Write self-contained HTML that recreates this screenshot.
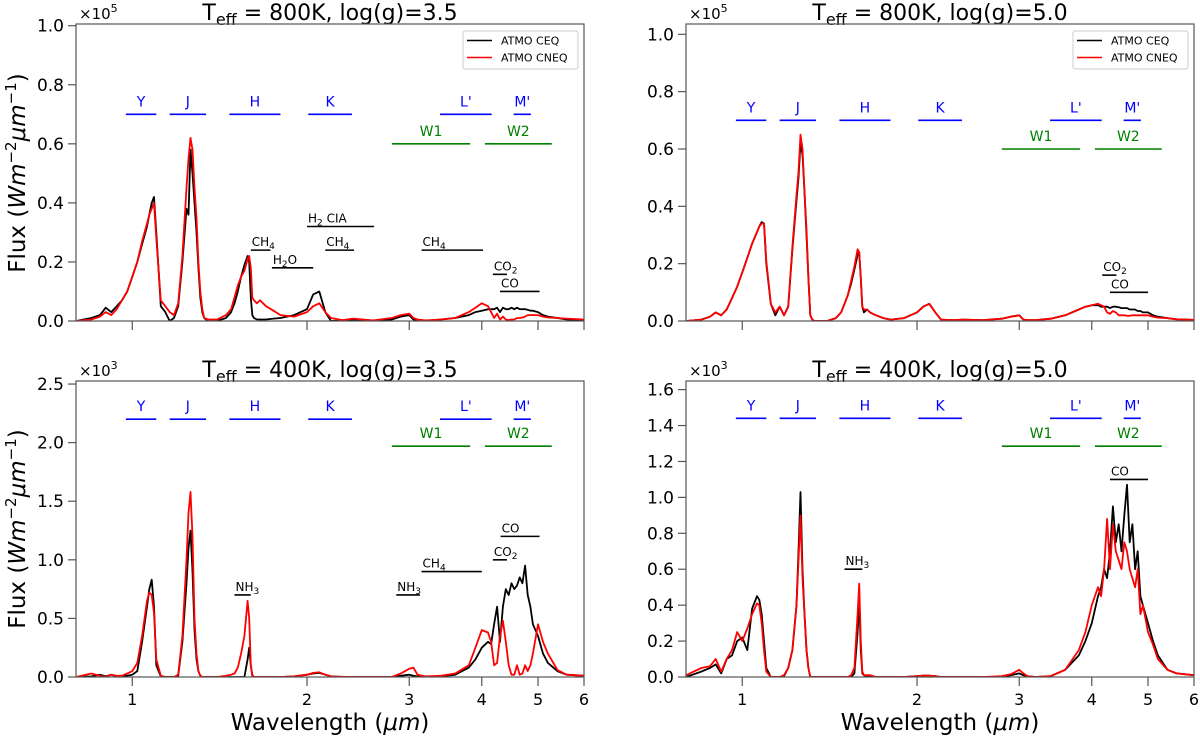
<!DOCTYPE html>
<html><head><meta charset="utf-8"><title>ATMO spectra</title>
<style>
html,body{margin:0;padding:0;background:#fff;}
svg{display:block;font-family:"DejaVu Sans","Liberation Sans",sans-serif;}
</style></head>
<body>
<svg id="fig" width="1200" height="737" viewBox="0 0 1200 737" xmlns="http://www.w3.org/2000/svg">
<rect width="1200" height="737" fill="#fff"/>
<text x="330" y="730" font-size="23" text-anchor="middle">Wavelength (<tspan font-style="italic">μm</tspan>)</text>
<text x="940" y="730" font-size="23" text-anchor="middle">Wavelength (<tspan font-style="italic">μm</tspan>)</text>
<text transform="translate(25,173) rotate(-90)" font-size="23" text-anchor="middle">Flux (<tspan font-style="italic">Wm</tspan><tspan font-size="15" dy="-9">−2</tspan><tspan font-style="italic" dy="9">μm</tspan><tspan font-size="15" dy="-9">−1</tspan><tspan dy="9">)</tspan></text>
<text transform="translate(25,529) rotate(-90)" font-size="23" text-anchor="middle">Flux (<tspan font-style="italic">Wm</tspan><tspan font-size="15" dy="-9">−2</tspan><tspan font-style="italic" dy="9">μm</tspan><tspan font-size="15" dy="-9">−1</tspan><tspan dy="9">)</tspan></text>
</svg>
<script>
// shared wavelength grid (micron)
const wavelength = [0.80,0.85,0.88,0.90,0.92,0.94,0.96,0.98,1.00,1.02,1.04,1.06,1.07,1.08,1.09,1.10,1.12,1.14,1.16,1.18,1.20,1.22,1.24,1.25,1.26,1.27,1.28,1.29,1.30,1.31,1.32,1.33,1.35,1.40,1.45,1.48,1.50,1.52,1.54,1.56,1.58,1.59,1.60,1.61,1.62,1.64,1.66,1.70,1.75,1.80,1.90,2.00,2.05,2.10,2.15,2.20,2.30,2.40,2.60,2.80,2.90,3.00,3.05,3.10,3.20,3.40,3.60,3.80,3.90,4.00,4.10,4.15,4.20,4.25,4.30,4.35,4.40,4.45,4.50,4.55,4.60,4.65,4.70,4.75,4.80,4.85,4.90,5.00,5.10,5.20,5.40,5.60,6.00];
// 800K logg 3.5 (x1e5)
const tlCEQ = [0.0,0.01,0.02,0.045,0.03,0.05,0.07,0.10,0.15,0.20, 0.26,0.32,0.36,0.40,0.42,0.30,0.05,0.03,0.0,0.01, 0.05,0.20,0.38,0.36,0.58,0.50,0.40,0.30,0.18,0.08, 0.03,0.01,0.0,0.0,0.01,0.03,0.06,0.10,0.15,0.19, 0.22,0.20,0.08,0.02,0.01,0.005,0.005,0.005,0.008,0.01, 0.02,0.04,0.09,0.10,0.03,0.0,0.002,0.005,0.0,0.005, 0.015,0.02,0.005,0.0,0.0,0.005,0.01,0.02,0.03,0.035, 0.04,0.04,0.04,0.045,0.03,0.045,0.04,0.04,0.045,0.04, 0.045,0.04,0.04,0.04,0.038,0.035,0.035,0.03,0.02,0.015, 0.01,0.005,0.003];
const tlCNEQ = [0.0,0.005,0.015,0.03,0.02,0.04,0.07,0.10,0.15,0.20, 0.27,0.33,0.36,0.38,0.40,0.28,0.07,0.05,0.03,0.02, 0.06,0.22,0.45,0.55,0.62,0.58,0.45,0.35,0.20,0.10, 0.04,0.01,0.005,0.005,0.02,0.04,0.08,0.12,0.15,0.17, 0.21,0.22,0.18,0.08,0.07,0.06,0.07,0.05,0.035,0.02, 0.015,0.03,0.05,0.06,0.03,0.01,0.003,0.008,0.002,0.01, 0.02,0.025,0.01,0.005,0.002,0.005,0.01,0.03,0.045,0.06, 0.05,0.03,0.01,0.025,0.005,0.015,0.005,0.003,0.005,0.005, 0.01,0.01,0.012,0.015,0.02,0.02,0.02,0.02,0.015,0.012, 0.01,0.008,0.005];
// 800K logg 5.0 (x1e5)
const trCEQ = [0.0,0.005,0.015,0.03,0.02,0.04,0.08,0.12,0.17,0.22, 0.27,0.31,0.33,0.345,0.34,0.20,0.06,0.02,0.05,0.02, 0.05,0.25,0.42,0.50,0.62,0.58,0.45,0.30,0.15,0.02, 0.005,0.0,0.0,0.0,0.01,0.03,0.06,0.09,0.13,0.18, 0.23,0.24,0.15,0.05,0.03,0.04,0.03,0.02,0.01,0.005, 0.01,0.03,0.05,0.06,0.03,0.005,0.003,0.005,0.003,0.008, 0.015,0.02,0.005,0.003,0.003,0.008,0.02,0.04,0.05,0.055, 0.055,0.05,0.05,0.05,0.045,0.05,0.05,0.048,0.045,0.045, 0.045,0.04,0.04,0.04,0.035,0.035,0.03,0.03,0.02,0.015, 0.01,0.006,0.004];
const trCNEQ = [0.0,0.005,0.015,0.03,0.02,0.04,0.08,0.12,0.17,0.22, 0.27,0.31,0.33,0.34,0.34,0.21,0.06,0.03,0.05,0.02, 0.05,0.26,0.44,0.52,0.65,0.60,0.45,0.32,0.15,0.02, 0.005,0.0,0.0,0.0,0.01,0.03,0.06,0.09,0.14,0.19, 0.25,0.24,0.15,0.05,0.04,0.04,0.03,0.02,0.01,0.005, 0.01,0.03,0.05,0.06,0.03,0.005,0.003,0.005,0.003,0.008, 0.015,0.02,0.005,0.003,0.003,0.008,0.02,0.04,0.05,0.055, 0.06,0.055,0.05,0.03,0.025,0.035,0.03,0.02,0.02,0.02, 0.018,0.018,0.02,0.02,0.02,0.02,0.02,0.02,0.015,0.012, 0.01,0.006,0.004];
// 400K logg 3.5 (x1e3)
const blCEQ = [0.0,0.005,0.02,0.005,0.02,0.005,0.01,0.01,0.02,0.05, 0.3,0.6,0.75,0.83,0.6,0.1,0.005,0,0,0, 0.01,0.3,0.8,1.1,1.25,0.9,0.4,0.15,0.05,0.01, 0,0,0,0,0,0,0,0,0,0, 0.15,0.25,0.1,0.01,0,0,0,0,0,0, 0.005,0.02,0.03,0.035,0.02,0.005,0,0,0,0, 0.01,0.02,0.01,0.005,0,0.005,0.02,0.08,0.15,0.25, 0.3,0.28,0.45,0.6,0.3,0.6,0.75,0.7,0.8,0.75, 0.78,0.85,0.8,0.95,0.7,0.6,0.45,0.35,0.2,0.12, 0.05,0.02,0.01];
const blCNEQ = [0.0,0.03,0.01,0.0,0.02,0.01,0.01,0.03,0.05,0.12, 0.35,0.65,0.72,0.7,0.55,0.15,0.01,0,0,0, 0.02,0.35,1.0,1.4,1.58,1.2,0.5,0.2,0.05,0.01, 0,0,0,0,0.01,0.02,0.03,0.08,0.2,0.35, 0.65,0.5,0.1,0.02,0,0,0,0,0,0, 0.005,0.02,0.035,0.04,0.02,0.005,0.002,0,0,0, 0.03,0.07,0.08,0.02,0.005,0.01,0.03,0.1,0.25,0.4, 0.38,0.3,0.1,0.12,0.35,0.48,0.3,0.1,0.02,0.02, 0.1,0.02,0.03,0.1,0.05,0.1,0.2,0.45,0.3,0.2, 0.06,0.02,0.01];
// 400K logg 5.0 (x1e3)
const brCEQ = [0.0,0.03,0.05,0.07,0.02,0.1,0.12,0.2,0.22,0.15, 0.38,0.45,0.43,0.35,0.2,0.05,0,0,0,0.005, 0.05,0.15,0.4,0.7,1.03,0.6,0.35,0.15,0.05,0, 0,0,0,0,0,0,0,0,0,0.02, 0.25,0.43,0.15,0.02,0.01,0.005,0.005,0,0,0, 0,0.005,0.008,0.008,0.005,0,0,0,0,0, 0.01,0.02,0.01,0.005,0,0.005,0.04,0.12,0.2,0.3, 0.45,0.5,0.6,0.55,0.7,0.95,0.75,0.85,0.7,0.9, 1.07,0.75,0.85,0.6,0.7,0.45,0.4,0.3,0.2,0.12, 0.04,0.02,0.01];
const brCNEQ = [0.01,0.05,0.06,0.1,0.03,0.1,0.15,0.25,0.2,0.27, 0.35,0.41,0.4,0.3,0.15,0.03,0,0,0,0.01, 0.05,0.15,0.4,0.65,0.9,0.55,0.35,0.15,0.05,0, 0,0,0,0,0,0,0,0,0.01,0.05, 0.35,0.52,0.2,0.03,0.01,0.01,0.01,0,0,0, 0,0.005,0.008,0.008,0.005,0,0,0,0,0.005, 0.015,0.04,0.02,0.005,0,0.005,0.04,0.15,0.25,0.4, 0.5,0.45,0.6,0.88,0.6,0.85,0.7,0.65,0.6,0.75, 0.7,0.6,0.55,0.5,0.6,0.35,0.4,0.25,0.18,0.1, 0.04,0.02,0.01];
// photometric bands
const bandNames = ["Y","J","H","K","L'","M'"];
const bandStart = [0.975,1.16,1.47,2.01,3.39,4.54];
const bandEnd = [1.10,1.34,1.80,2.39,4.16,4.86];
const wiseNames = ["W1","W2"];
const wiseStart = [2.80,4.05];
const wiseEnd = [3.82,5.28];
const xTickValues = [1,2,3,4,5,6];
const xTickLabels = ["1","2","3","4","5","6"];
const topYTicks = [0,0.2,0.4,0.6,0.8,1.0];
const blYTicks = [0,0.5,1.0,1.5,2.0,2.5];
const brYTicks = [0,0.2,0.4,0.6,0.8,1.0,1.2,1.4,1.6];
// molecule annotations
const tlMolName = ["CH4","H2O","H2 CIA","CH4","CH4","CO2","CO"];
const tlMolStart = [1.60,1.74,2.00,2.15,3.15,4.18,4.30];
const tlMolEnd = [1.73,2.05,2.61,2.41,4.02,4.42,5.03];
const tlMolLevel = [0.24,0.18,0.32,0.24,0.24,0.158,0.10];
const trMolName = ["CO2","CO"];
const trMolStart = [4.17,4.30];
const trMolEnd = [4.41,5.00];
const trMolLevel = [0.16,0.10];
const blMolName = ["NH3","NH3","CH4","CO2","CO"];
const blMolStart = [1.50,2.85,3.15,4.18,4.31];
const blMolEnd = [1.60,3.13,4.00,4.42,5.03];
const blMolLevel = [0.70,0.70,0.90,1.00,1.20];
const brMolName = ["NH3","CO"];
const brMolStart = [1.50,4.30];
const brMolEnd = [1.61,5.00];
const brMolLevel = [0.60,1.10];

const NS = "http://www.w3.org/2000/svg";
const svg = document.getElementById('fig');
function mk(tag, attrs, parent){ const e=document.createElementNS(NS,tag); for(const k in attrs) e.setAttribute(k,attrs[k]); (parent||svg).appendChild(e); return e; }

function molText(g, name, x, y){
  const t = mk('text',{x:x,y:y,'font-size':12,fill:'#000'},g);
  
  
  if(name==="H2 CIA"){ t.innerHTML='H<tspan font-size="9" dy="3">2</tspan><tspan dy="-3"> CIA</tspan>'; return; }
  if(name==="CO2"){ t.innerHTML='CO<tspan font-size="9" dy="3">2</tspan>'; return; }
  if(name==="CH4"){ t.innerHTML='CH<tspan font-size="9" dy="3">4</tspan>'; return; }
  if(name==="NH3"){ t.innerHTML='NH<tspan font-size="9" dy="3">3</tspan>'; return; }
  if(name==="H2O"){ t.innerHTML='H<tspan font-size="9" dy="3">2</tspan><tspan dy="-3">O</tspan>'; return; }
  t.textContent = name;
}

function panel(cfg){
  const g = mk('g',{});
  
  
  const lx0=Math.log10(0.8), lx1=Math.log10(6);
  const X = v => cfg.x0 + (Math.log10(v)-lx0)/(lx1-lx0)*(cfg.x1-cfg.x0);
  const Y = v => cfg.yb - v/cfg.ymax*(cfg.yb-cfg.yt);
  const tt = mk('text',{x:(cfg.x0+cfg.x1)/2,y:cfg.yt-4,'font-size':22,'text-anchor':'middle'},g);
  
  
  tt.innerHTML = 'T<tspan font-size="16" dy="5">eff</tspan><tspan dy="-5"> = '+cfg.teff+'K, log(g)='+cfg.logg+'</tspan>';
  const sc = mk('text',{x:cfg.x0+3,y:cfg.yt-5,'font-size':15},g);
  
  
  sc.innerHTML = '×10<tspan font-size="11" dy="-7">'+cfg.exp+'</tspan>';
  for(let i=0;i<bandNames.length;i++){
    const yb = Y(cfg.bandLevel);
    const l = mk('line',{x1:X(bandStart[i]),x2:X(bandEnd[i]),y1:yb,y2:yb,stroke:'#0000ff','stroke-width':1.6},g);
    
    
    const t = mk('text',{x:(X(bandStart[i])+X(bandEnd[i]))/2,y:yb-8,'font-size':14,fill:'#0000ff','text-anchor':'middle'},g);
    
    
    t.textContent = bandNames[i];
  }
  for(let i=0;i<wiseNames.length;i++){
    const yb = Y(cfg.wiseLevel);
    const l = mk('line',{x1:X(wiseStart[i]),x2:X(wiseEnd[i]),y1:yb,y2:yb,stroke:'#008000','stroke-width':1.6},g);
    
    
    const t = mk('text',{x:(X(wiseStart[i])+X(wiseEnd[i]))/2,y:yb-8,'font-size':14,fill:'#008000','text-anchor':'middle'},g);
    
    
    t.textContent = wiseNames[i];
  }
  for(let i=0;i<cfg.molName.length;i++){
    const ym = Y(cfg.molLevel[i]);
    const l = mk('line',{x1:X(cfg.molStart[i]),x2:X(cfg.molEnd[i]),y1:ym,y2:ym,stroke:'#000','stroke-width':1.6},g);
    
    
    molText(g, cfg.molName[i], X(cfg.molStart[i])+1, ym-4);
  }
  const clipId = 'clip'+cfg.name;
  const cp = mk('clipPath',{id:clipId},g);
  mk('rect',{x:cfg.x0,y:cfg.yt,width:cfg.x1-cfg.x0,height:cfg.yb-cfg.yt},cp);
  const series = [[cfg.ceq,'#000','series-atmo-ceq'],[cfg.cneq,'#ff0000','series-atmo-cneq']];
  for(const s of series){
    let d='';
    for(let i=0;i<wavelength.length;i++) d += (i?'L':'M')+X(wavelength[i]).toFixed(1)+','+Y(s[0][i]).toFixed(1);
    const p = mk('path',{d:d,fill:'none',stroke:s[1],'stroke-width':1.8,'stroke-linejoin':'round','clip-path':'url(#'+clipId+')'},g);
    
    
  }
  const fr = mk('rect',{x:cfg.x0,y:cfg.yt,width:cfg.x1-cfg.x0,height:cfg.yb-cfg.yt,fill:'none',stroke:'#555','stroke-width':1.2},g);
  
  
  for(const v of cfg.yTicks){
    const y=Y(v);
    const tk = mk('line',{x1:cfg.x0-8,x2:cfg.x0,y1:y,y2:y,stroke:'#555','stroke-width':1.2},g);
    
    
    const t = mk('text',{x:cfg.x0-12,y:y+6,'font-size':17,'text-anchor':'end'},g);
    
    
    t.textContent = v.toFixed(1);
  }
  for(let i=0;i<xTickValues.length;i++){
    const x=X(xTickValues[i]);
    const tk = mk('line',{x1:x,x2:x,y1:cfg.yb,y2:cfg.yb+9,stroke:'#555','stroke-width':1.2},g);
    
    
    if(cfg.xlabels){
      const t = mk('text',{x:x,y:cfg.yb+28,'font-size':16,'text-anchor':'middle'},g);
      
      
      t.textContent = xTickLabels[i];
    }
  }
  if(cfg.legend){
    const lg = mk('g',{},g);
    
    
    const lx = cfg.x1-121;
    mk('rect',{x:lx,y:cfg.yt+7,width:115,height:38,rx:2,fill:'#fff',stroke:'#ccc','stroke-width':1},lg);
    const ents=[['#000','ATMO CEQ'],['#ff0000','ATMO CNEQ']];
    ents.forEach((e,k)=>{
      const yy = cfg.yt+16.5+k*17;
      const el = mk('g',{},lg);
      
      
      mk('line',{x1:lx+4,x2:lx+29,y1:yy,y2:yy,stroke:e[0],'stroke-width':1.6},el);
      const t = mk('text',{x:lx+38,y:yy+4,'font-size':11},el);
      t.textContent = e[1];
    });
  }
}

panel({name:'panel-800k-logg35',x0:76,x1:584,yt:24,yb:321,ymax:1.0058,teff:800,logg:'3.5',exp:5,yTicks:topYTicks,bandLevel:0.7,wiseLevel:0.6,molName:tlMolName,molStart:tlMolStart,molEnd:tlMolEnd,molLevel:tlMolLevel,ceq:tlCEQ,cneq:tlCNEQ,legend:true,xlabels:false});
panel({name:'panel-800k-logg50',x0:686,x1:1194,yt:24,yb:321,ymax:1.036,teff:800,logg:'5.0',exp:5,yTicks:topYTicks,bandLevel:0.7,wiseLevel:0.6,molName:trMolName,molStart:trMolStart,molEnd:trMolEnd,molLevel:trMolLevel,ceq:trCEQ,cneq:trCNEQ,legend:true,xlabels:false});
panel({name:'panel-400k-logg35',x0:76,x1:584,yt:381,yb:677,ymax:2.526,teff:400,logg:'3.5',exp:3,yTicks:blYTicks,bandLevel:2.2,wiseLevel:1.97,molName:blMolName,molStart:blMolStart,molEnd:blMolEnd,molLevel:blMolLevel,ceq:blCEQ,cneq:blCNEQ,legend:false,xlabels:true});
panel({name:'panel-400k-logg50',x0:686,x1:1194,yt:381,yb:677,ymax:1.648,teff:400,logg:'5.0',exp:3,yTicks:brYTicks,bandLevel:1.44,wiseLevel:1.285,molName:brMolName,molStart:brMolStart,molEnd:brMolEnd,molLevel:brMolLevel,ceq:brCEQ,cneq:brCNEQ,legend:false,xlabels:true});
</script>
</body></html>
